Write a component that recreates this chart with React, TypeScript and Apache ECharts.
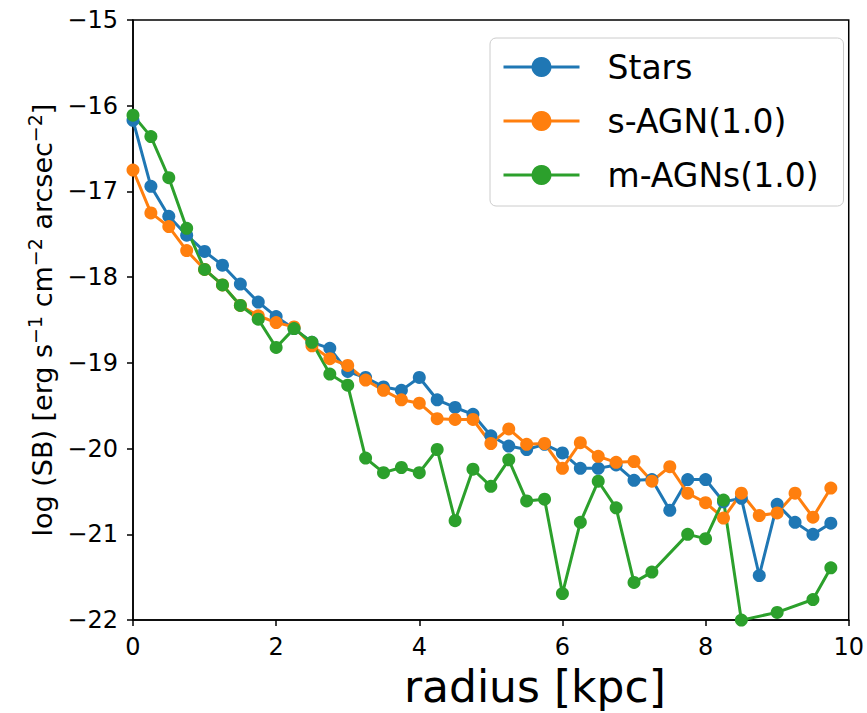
import React, { useEffect, useRef } from "react";
import * as echarts from "echarts";

const radius = [
  0, 0.25, 0.5, 0.75, 1.0, 1.25, 1.5, 1.75, 2.0, 2.25,
  2.5, 2.75, 3.0, 3.25, 3.5, 3.75, 4.0, 4.25, 4.5, 4.75,
  5.0, 5.25, 5.5, 5.75, 6.0, 6.25, 6.5, 6.75, 7.0, 7.25,
  7.5, 7.75, 8.0, 8.25, 8.5, 8.75, 9.0, 9.25, 9.5, 9.75,
];

const stars = [
  -16.17, -16.94, -17.29, -17.51, -17.70, -17.86, -18.08, -18.29, -18.46, -18.60,
  -18.76, -18.83, -19.10, -19.17, -19.28, -19.32, -19.17, -19.43, -19.52, -19.60,
  -19.85, -19.97, -20.01, -19.95, -20.05, -20.23, -20.23, -20.19, -20.37, -20.36,
  -20.72, -20.36, -20.36, -20.62, -20.58, -21.48, -20.65, -20.86, -21.00, -20.87,
];

const sAgn = [
  -16.75, -17.25, -17.41, -17.69, -17.91, -18.09, -18.33, -18.45, -18.53, -18.58,
  -18.80, -18.95, -19.03, -19.20, -19.32, -19.43, -19.47, -19.65, -19.66, -19.66,
  -19.94, -19.77, -19.95, -19.94, -20.23, -19.93, -20.09, -20.16, -20.15, -20.38,
  -20.21, -20.52, -20.63, -20.81, -20.52, -20.78, -20.75, -20.52, -20.80, -20.46,
];

const mAgns: (number | null)[] = [
  -16.11, -16.36, -16.84, -17.43, -17.91, -18.09, -18.33, -18.49, -18.82, -18.60,
  -18.76, -19.13, -19.26, -20.11, -20.28, -20.22, -20.28, -20.01, -20.84, -20.24,
  -20.44, -20.13, -20.61, -20.59, -21.69, -20.86, -20.38, -20.69, -21.56, -21.44,
  null, -21.00, -21.05, -20.60, -22.0, null, -21.91, null, -21.76, -21.39,
];

const seriesNames = ["Stars", "s-AGN(1.0)", "m-AGNs(1.0)"];
const seriesColors = ["#1f77b4", "#ff7f0e", "#2ca02c"];
const xTicks = { min: 0, max: 10, interval: 2 };
const yTicks = { min: -22, max: -15, interval: 1 };
const xTitle = "radius [kpc]";
const yTitle =
  "{n|log (SB) [erg s}{s|\u22121}{n| cm}{s|\u22122}{n| arcsec}{s|\u22122}{n|]}";

const FONT = "DejaVu Sans";

function pairs(vals: (number | null)[]) {
  return radius
    .map((r, i) => [r, vals[i]])
    .filter((p) => p[1] !== null && p[1] !== undefined);
}

const fmt = (v: number) => (v < 0 ? "\u2212" + Math.abs(v) : String(v));

export default function App() {
  const ref = useRef<HTMLDivElement>(null);
  useEffect(() => {
    document.body.style.margin = "0";
    if (!ref.current) return;
    const chart = echarts.init(ref.current, null, { renderer: "svg" });
    const allData = [stars, sAgn, mAgns];
    chart.setOption({
      animation: false,
      backgroundColor: "#ffffff",
      textStyle: { fontFamily: FONT },
      grid: {
        left: 133,
        right: 18,
        top: 20,
        bottom: 88,
        show: true,
        borderColor: "#000",
        borderWidth: 1.5,
        backgroundColor: "transparent",
      },
      legend: {
        left: 490,
        top: 38,
        orient: "vertical",
        data: seriesNames,
        itemWidth: 76,
        itemHeight: 25,
        itemGap: 14,
        padding: [9, 25, 11, 12],
        backgroundColor: "rgba(255,255,255,0.8)",
        borderColor: "#cccccc",
        borderWidth: 1,
        borderRadius: 6,
        lineStyle: { width: 3 },
        textStyle: {
          fontFamily: FONT,
          fontSize: 33,
          color: "#000",
          lineHeight: 40,
          padding: [0, 0, 0, 23],
        },
      },
      xAxis: {
        type: "value",
        min: xTicks.min,
        max: xTicks.max,
        interval: xTicks.interval,
        name: xTitle,
        nameLocation: "middle",
        nameGap: 40,
        nameTextStyle: {
          fontFamily: FONT,
          fontSize: 44,
          color: "#000",
          padding: [0, 0, 0, 88],
        },
        axisLine: { show: true, onZero: false, lineStyle: { color: "#000", width: 1.5 } },
        axisTick: { show: true, inside: false, length: 6, lineStyle: { color: "#000", width: 1.5 } },
        axisLabel: { fontFamily: FONT, fontSize: 24, color: "#000", margin: 15, formatter: fmt },
        splitLine: { show: false },
      },
      yAxis: {
        type: "value",
        min: yTicks.min,
        max: yTicks.max,
        interval: yTicks.interval,
        name: yTitle,
        nameLocation: "middle",
        nameRotate: 90,
        nameGap: 72,
        nameTextStyle: {
          fontFamily: FONT,
          fontSize: 27,
          color: "#000",
          rich: {
            n: { fontFamily: FONT, fontSize: 27, color: "#000", lineHeight: 34 },
            s: {
              fontFamily: FONT,
              fontSize: 19,
              color: "#000",
              lineHeight: 19,
              verticalAlign: "top",
            },
          },
        },
        axisLine: { show: true, onZero: false, lineStyle: { color: "#000", width: 1.5 } },
        axisTick: { show: true, inside: false, length: 6, lineStyle: { color: "#000", width: 1.5 } },
        axisLabel: { fontFamily: FONT, fontSize: 24, color: "#000", margin: 15, formatter: fmt },
        splitLine: { show: false },
      },
      series: seriesNames.map((name, k) => ({
        name,
        type: "line",
        data: pairs(allData[k]),
        symbol: "circle",
        symbolSize: 13,
        clip: true,
        color: seriesColors[k],
        lineStyle: { color: seriesColors[k], width: 3 },
        itemStyle: { color: seriesColors[k] },
        emphasis: { disabled: true },
      })),
    });
    return () => chart.dispose();
  }, []);
  return <div ref={ref} style={{ width: 867, height: 713 }} />;
}
